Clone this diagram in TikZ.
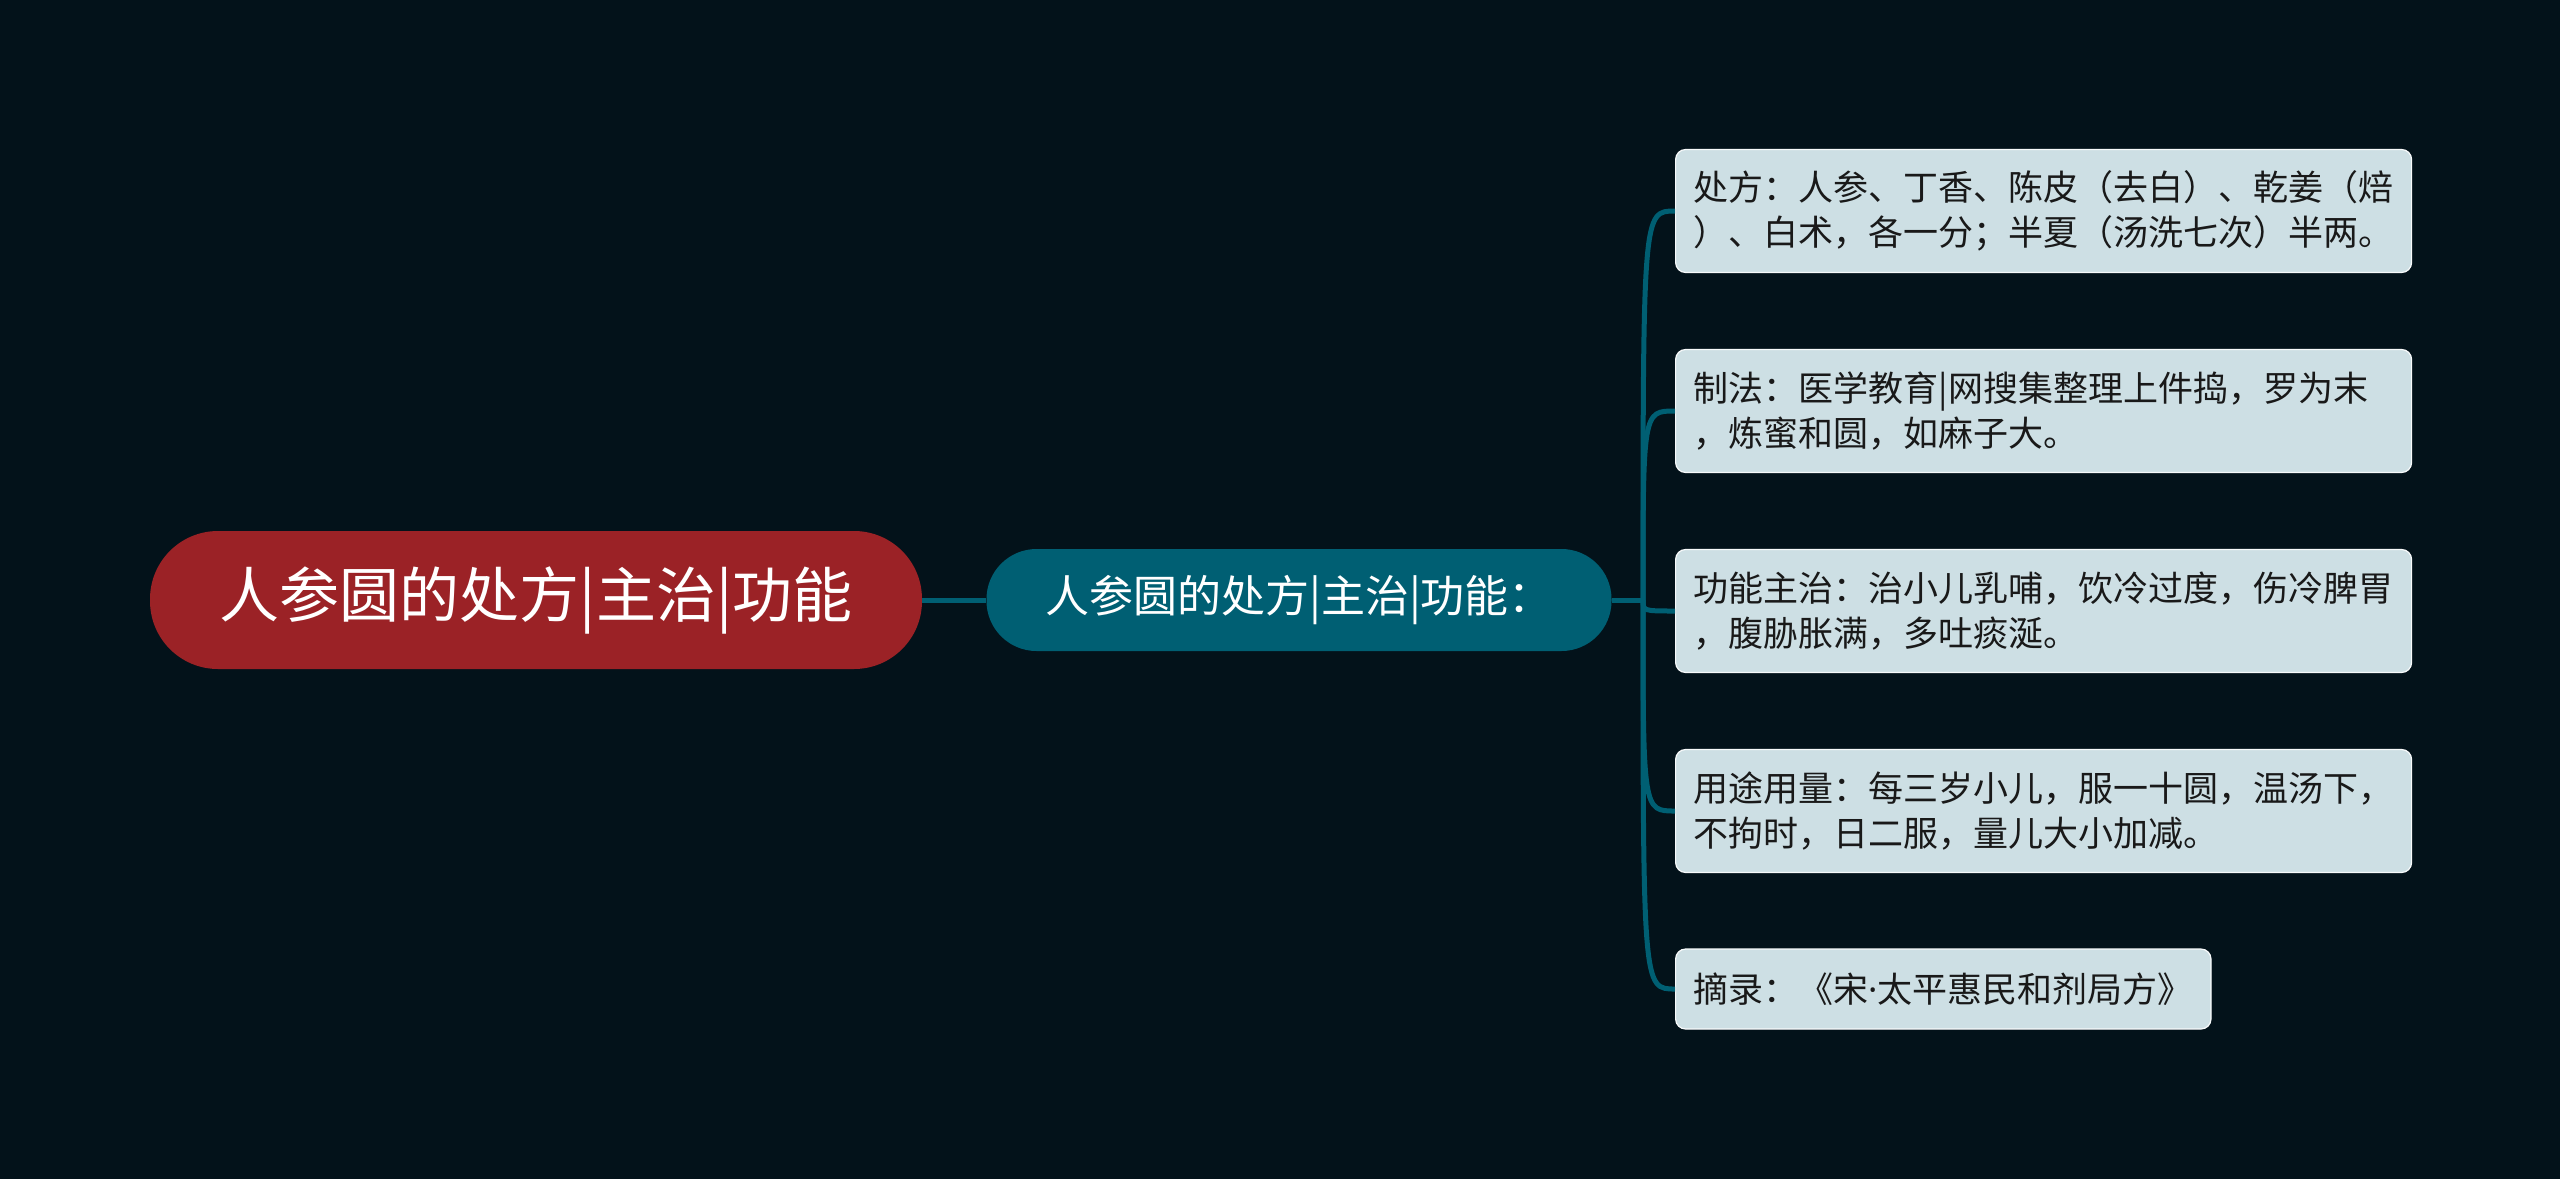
\documentclass[tikz,border=0pt]{standalone}
\usepackage{fontspec}
\setmainfont{Noto Sans CJK SC}
\newfontfamily\latinfont{Noto Sans}
\usepackage{tikz}
\usepackage{xcolor}
\usetikzlibrary{positioning}

\definecolor{bgdark}{RGB}{3,18,26}
\definecolor{rootred}{RGB}{155,34,38}
\definecolor{subteal}{RGB}{0,95,115}
\definecolor{leafgray}{RGB}{205,223,228}

\begin{document}
\begin{tikzpicture}[x=0.5pt,y=-0.5pt,
    rootbox/.style={rectangle,fill=rootred,text=white,rounded corners=34pt,
        minimum width=386pt,minimum height=69pt,font=\fontsize{30}{35}\selectfont},
    subbox/.style={rectangle,fill=subteal,text=white,rounded corners=25pt,
        minimum width=312.5pt,minimum height=51pt,font=\fontsize{22}{26}\selectfont},
    leafbox/.style={rectangle,fill=leafgray,draw=white!85!leafgray,line width=0.6pt,
        rounded corners=5pt,anchor=west,align=left,inner xsep=9pt,inner ysep=7pt,
        text=black!90,font=\fontsize{17.5}{22.5}\selectfont},
    wideleaf/.style={leafbox,text width=350pt,minimum height=61.5pt},
    link/.style={draw=subteal,line width=2.5pt}]
    % Background
    \fill[bgdark] (0,0) rectangle (2560,1179);

    % Main topics
    \node[rootbox] (root) at (536,600) {人参圆的处方|主治|功能};
    \node[subbox] (sub) at (1299,600) {人参圆的处方|主治|功能：};
    \coordinate (fork) at (1643,600);

    % Details
    \node[wideleaf] (leaf1) at (1675,211) {处方：人参、丁香、陈皮（去白）、乾姜（焙\\）、白术，各一分；半夏（汤洗七次）半两。};
    \node[wideleaf] (leaf2) at (1675,411) {制法：医学教育|网搜集整理上件捣，罗为末\\，炼蜜和圆，如麻子大。};
    \node[wideleaf] (leaf3) at (1675,611) {功能主治：治小儿乳哺，饮冷过度，伤冷脾胃\\，腹胁胀满，多吐痰涎。};
    \node[wideleaf] (leaf4) at (1675,811) {用途用量：每三岁小儿，服一十圆，温汤下，\\不拘时，日二服，量儿大小加减。};
    \node[leafbox,minimum height=40pt] (leaf5) at (1675,989) {摘录：《宋{\latinfont ·}太平惠民和剂局方》};

    % Connectors
    \draw[link] (root.east) -- (sub.west);
    \draw[link] (sub.east) -- (fork);
    \foreach \i in {1,...,5} {
        \draw[link] (fork) .. controls (fork |- leaf\i.west) .. (leaf\i.west);
    }
\end{tikzpicture}
\end{document}
